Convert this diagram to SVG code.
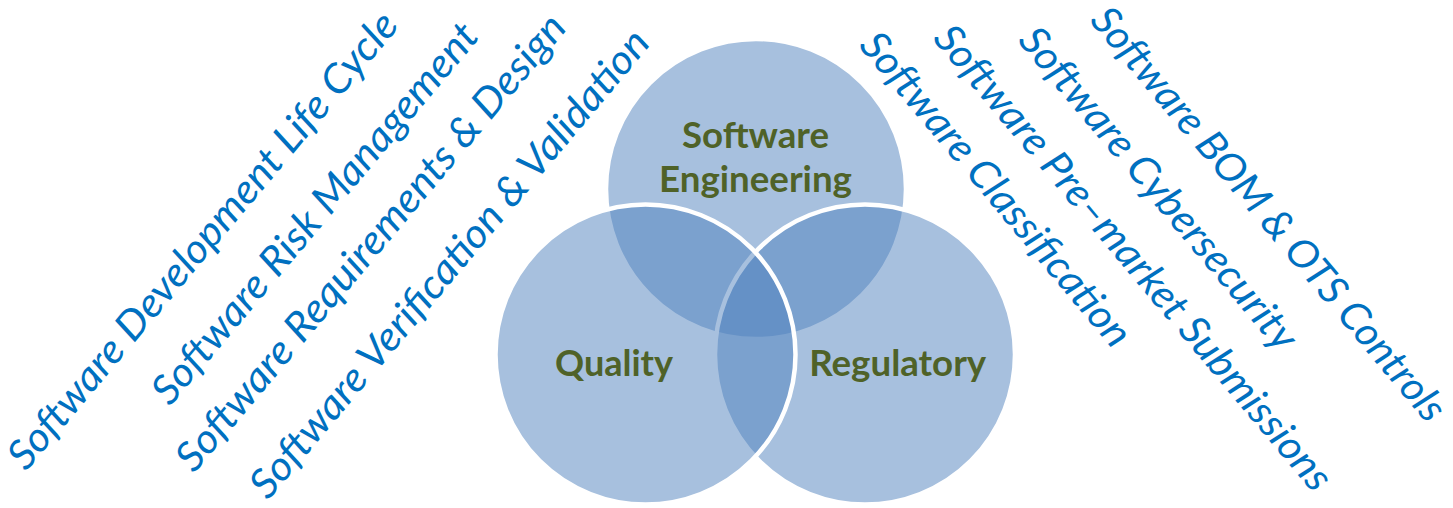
<svg xmlns="http://www.w3.org/2000/svg" width="1453" height="508" viewBox="0 0 1453 508">
  <style>
    .disc { fill: #4f81bd; fill-opacity: 0.5; stroke: #ffffff; stroke-width: 4.5; }
    .area { font-family: Lato, "Open Sans", "Liberation Sans", sans-serif; font-weight: 700; font-size: 36px; fill: #4f6228; text-anchor: middle; }
    .topic { font-family: Lato, "Open Sans", "Liberation Sans", sans-serif; font-style: italic; font-size: 40.5px; fill: #0070c0; }
  </style>
  <rect width="1453" height="508" fill="#ffffff"/>

  <!-- Venn circles: drawn top, right, left so later outlines sit on top -->
  <g id="node-engineering">
    <circle class="disc" cx="756" cy="189" r="150"/>
    <text class="area" x="755.5" y="148" textLength="147" lengthAdjust="spacingAndGlyphs">Software</text>
    <text class="area" x="755.5" y="192" textLength="193" lengthAdjust="spacingAndGlyphs">Engineering</text>
  </g>
  <g id="node-regulatory">
    <circle class="disc" cx="865" cy="354.5" r="150"/>
    <text class="area" x="897.7" y="376" textLength="177" lengthAdjust="spacingAndGlyphs">Regulatory</text>
  </g>
  <g id="node-quality">
    <circle class="disc" cx="645.5" cy="354.5" r="150"/>
    <text class="area" x="614" y="376" textLength="118" lengthAdjust="spacingAndGlyphs">Quality</text>
  </g>

  <!-- Process topics, rising to the left -->
  <g id="topics-left">
    <text class="topic" transform="translate(26 472) rotate(-50)" textLength="582" lengthAdjust="spacingAndGlyphs">Software Development Life Cycle</text>
    <text class="topic" transform="translate(170 407) rotate(-50)" textLength="483" lengthAdjust="spacingAndGlyphs">Software Risk Management</text>
    <text class="topic" transform="translate(194 474) rotate(-50)" textLength="582" lengthAdjust="spacingAndGlyphs">Software Requirements &amp; Design</text>
    <text class="topic" transform="translate(268 501) rotate(-50)" textLength="597" lengthAdjust="spacingAndGlyphs">Software Verification &amp; Validation</text>
  </g>

  <!-- Regulatory topics, falling to the right -->
  <g id="topics-right">
    <text class="topic" transform="translate(858 46) rotate(50)" textLength="397" lengthAdjust="spacingAndGlyphs">Software Classification</text>
    <text class="topic" transform="translate(932 39) rotate(50)" textLength="594" lengthAdjust="spacingAndGlyphs">Software Pre–market Submissions</text>
    <text class="topic" transform="translate(1017 41) rotate(50)" textLength="408" lengthAdjust="spacingAndGlyphs">Software Cybersecurity</text>
    <text class="topic" transform="translate(1089 21) rotate(50)" textLength="527" lengthAdjust="spacingAndGlyphs">Software BOM &amp; OTS Controls</text>
  </g>
</svg>
